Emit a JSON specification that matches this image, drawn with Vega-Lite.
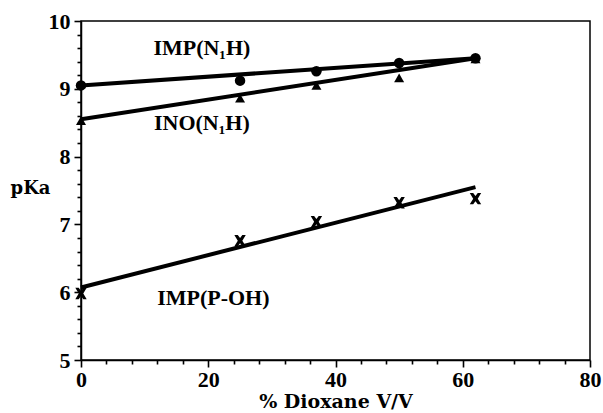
{
  "$schema": "https://vega.github.io/schema/vega-lite/v6.json",
  "width": 509,
  "height": 339,
  "autosize": {"type": "none"},
  "padding": {"left": 81, "top": 21, "right": 13, "bottom": 53},
  "background": "white",
  "config": {
    "view": {"stroke": "black", "strokeWidth": 1.5},
    "axis": {"domainColor": "black", "domainWidth": 1.5, "ticks": true, "tickColor": "black", "tickWidth": 1.6, "grid": false,
      "labelFont": "Liberation Serif", "labelFontWeight": "bold", "labelColor": "black"}
  },
  "datasets": {
    "pts": [
      {"series": "IMP(N1H)", "x": 0, "y": 9.05},
      {"series": "IMP(N1H)", "x": 25, "y": 9.12},
      {"series": "IMP(N1H)", "x": 37, "y": 9.26},
      {"series": "IMP(N1H)", "x": 50, "y": 9.38},
      {"series": "IMP(N1H)", "x": 62, "y": 9.45},
      {"series": "INO(N1H)", "x": 0, "y": 8.53},
      {"series": "INO(N1H)", "x": 25, "y": 8.86},
      {"series": "INO(N1H)", "x": 37, "y": 9.05},
      {"series": "INO(N1H)", "x": 50, "y": 9.16},
      {"series": "INO(N1H)", "x": 62, "y": 9.44},
      {"series": "IMP(P-OH)", "x": 0, "y": 5.98},
      {"series": "IMP(P-OH)", "x": 25, "y": 6.76},
      {"series": "IMP(P-OH)", "x": 37, "y": 7.04},
      {"series": "IMP(P-OH)", "x": 50, "y": 7.32},
      {"series": "IMP(P-OH)", "x": 62, "y": 7.38}
    ],
    "fits": [
      {"series": "IMP(N1H)", "x": 0, "y": 9.05},
      {"series": "IMP(N1H)", "x": 62, "y": 9.45},
      {"series": "INO(N1H)", "x": 0, "y": 8.55},
      {"series": "INO(N1H)", "x": 62, "y": 9.45},
      {"series": "IMP(P-OH)", "x": 0, "y": 6.07},
      {"series": "IMP(P-OH)", "x": 62, "y": 7.55}
    ],
    "labels": [
      {"label": "IMP(N₁H)", "x": 19, "y": 9.6},
      {"label": "INO(N₁H)", "x": 19, "y": 8.49},
      {"label": "IMP(P-OH)", "x": 20.8, "y": 5.91}
    ]
  },
  "resolve": {"axis": {"x": "independent", "y": "independent"}},
  "layer": [
    {
      "data": {"name": "fits"},
      "mark": {"type": "line", "color": "black", "strokeWidth": 4},
      "encoding": {
        "x": {"field": "x", "type": "quantitative", "scale": {"domain": [0, 80], "nice": false, "zero": false},
          "axis": {"orient": "bottom", "title": null, "labels": false, "domain": false, "ticks": true,
            "values": [4,8,12,16,24,28,32,36,44,48,52,56,64,68,72,76], "tickSize": 4}},
        "y": {"field": "y", "type": "quantitative", "scale": {"domain": [5, 10], "nice": false, "zero": false},
          "axis": {"orient": "left", "title": null, "labels": false, "domain": false, "ticks": true,
            "values": [5.2,5.4,5.6,5.8,6.2,6.4,6.6,6.8,7.2,7.4,7.6,7.8,8.2,8.4,8.6,8.8,9.2,9.4,9.6,9.8], "tickSize": 4}},
        "detail": {"field": "series"}
      }
    },
    {
      "data": {"name": "pts"},
      "transform": [{"filter": "datum.series === 'IMP(N1H)'"}],
      "mark": {"type": "point", "shape": "circle", "filled": true, "color": "black", "size": 110, "opacity": 1},
      "encoding": {
        "x": {"field": "x", "type": "quantitative", "scale": {"domain": [0, 80], "nice": false, "zero": false},
          "axis": {"orient": "bottom", "title": "% Dioxane V/V", "values": [0, 20, 40, 60, 80], "tickSize": 7, "ticks": true,
            "labelFont": "Liberation Serif", "labelFontWeight": "bold", "labelFontSize": 22, "labelColor": "black", "labelPadding": 2, "labelFlush": false,
            "titleFont": "DejaVu Serif", "titleFontWeight": "bold", "titleFontSize": 19, "titleColor": "black", "titlePadding": 2}},
        "y": {"field": "y", "type": "quantitative", "scale": {"domain": [5, 10], "nice": false, "zero": false},
          "axis": {"orient": "left", "title": "pKa", "values": [5, 6, 7, 8, 9, 10], "tickSize": 7, "ticks": true,
            "labelFont": "Liberation Serif", "labelFontWeight": "bold", "labelFontSize": 22, "labelColor": "black", "labelPadding": 4,
            "titleFont": "DejaVu Serif", "titleFontWeight": "bold", "titleFontSize": 18, "titleColor": "black",
            "titleAngle": 0, "titleAlign": "center", "titleBaseline": "middle", "titleX": -51, "titleY": 167}}
      }
    },
    {
      "data": {"name": "pts"},
      "transform": [{"filter": "datum.series === 'INO(N1H)'"}],
      "mark": {"type": "point", "shape": "triangle-up", "filled": true, "color": "black", "size": 100, "opacity": 1},
      "encoding": {
        "x": {"field": "x", "type": "quantitative", "axis": null},
        "y": {"field": "y", "type": "quantitative", "axis": null}
      }
    },
    {
      "data": {"name": "pts"},
      "transform": [{"filter": "datum.series === 'IMP(P-OH)'"}],
      "mark": {"type": "point", "shape": "M-1,-1L-0.4,-1L0,-0.45L0.4,-1L1,-1L0.4,0L1,1L0.4,1L0,0.45L-0.4,1L-1,1L-0.4,0Z", "filled": true, "color": "black", "size": 130, "opacity": 1},
      "encoding": {
        "x": {"field": "x", "type": "quantitative", "axis": null},
        "y": {"field": "y", "type": "quantitative", "axis": null}
      }
    },
    {
      "data": {"name": "labels"},
      "mark": {"type": "text", "font": "Liberation Serif", "fontWeight": "bold", "fontSize": 22, "color": "black", "align": "center", "baseline": "middle"},
      "encoding": {
        "x": {"field": "x", "type": "quantitative", "axis": null},
        "y": {"field": "y", "type": "quantitative", "axis": null},
        "text": {"field": "label"}
      }
    }
  ]
}
